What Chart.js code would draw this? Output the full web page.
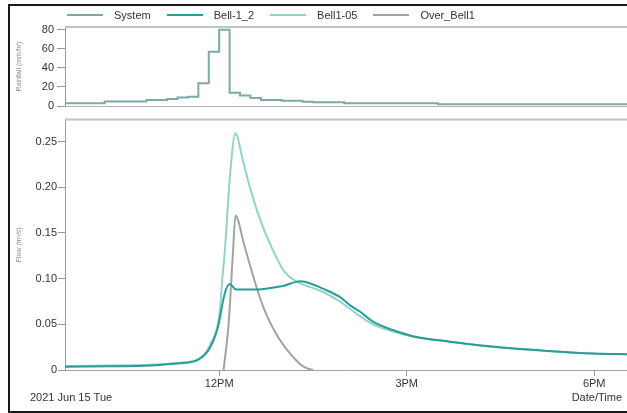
<!DOCTYPE html>
<html lang="en">
<head>
<meta charset="UTF-8">
<title>Rainfall and Flow</title>
<script src="https://cdn.jsdelivr.net/npm/chart.js"></script>
<style>
    html, body {
        margin: 0;
        padding: 0;
        background: #ffffff;
        overflow: hidden;
    }
    body {
        width: 627px;
        height: 413px;
        position: relative;
        font-family: "Liberation Sans", Arial, sans-serif;
    }
    #frame {
        position: absolute;
        left: 8px;
        top: 4px;
        width: 700px;
        height: 405px;
        border: 2px solid #1a1a1a;
        border-right: none;
        pointer-events: none;
        z-index: 5;
    }
    #rain { position: absolute; left: 0; top: 0; }
    #flow { position: absolute; left: 0; top: 112px; }
    .legend {
        position: absolute;
        top: 9px;
        left: 67px;
        display: flex;
        align-items: center;
        font-size: 11px;
        color: #333;
        z-index: 6;
        white-space: nowrap;
    }
    .legend .item { display: flex; align-items: center; margin-right: 16px; }
    .legend .swatch { width: 36px; height: 2px; margin-right: 11px; }
</style>
</head>
<body>
    <div id="frame"></div>
    <div class="legend" id="legend"></div>
    <canvas id="rain" width="627" height="120"></canvas>
    <canvas id="flow" width="627" height="301"></canvas>

<script>
    // x values are hours of the day (2021 Jun 15)
    const xMin = 9.533;
    const xMax = 18.525;
    const timeTicks = [12, 15, 18];
    const timeLabels = ['12PM', '3PM', '6PM'];

    const rainTicks = [0, 20, 40, 60, 80];
    const flowTicks = [0, 0.05, 0.10, 0.15, 0.20, 0.25];

    // rainfall (mm/hr), value holds until the next time
    const rainTime  = [9.0, 10.1667, 10.8333, 11.1667, 11.3333, 11.5, 11.6667, 11.8333, 12.0, 12.1667, 12.3333, 12.5, 12.6667, 13.0, 13.3333, 13.5, 14.0, 15.5, 19.0];
    const rainValue = [2.8, 4.6, 6.3, 7.4, 8.8, 9.8, 24, 57, 80, 14, 11, 8.4, 6.3, 5.6, 4.5, 3.9, 2.8, 1.8, 1.8];

    // flow (m3/s)
    const bell12Time = [9.0, 9.53, 10.25, 10.9, 11.37, 11.66, 11.85, 11.98, 12.09, 12.17, 12.27, 12.54, 13.02, 13.3, 13.45, 13.66, 13.93, 14.09, 14.25, 14.46, 14.78, 15.1, 15.69, 16.49, 17.29, 17.98, 18.6];
    const bell12Flow = [0.0036, 0.0036, 0.004, 0.005, 0.0073, 0.011, 0.024, 0.047, 0.084, 0.094, 0.088, 0.088, 0.092, 0.097, 0.095, 0.089, 0.080, 0.071, 0.064, 0.053, 0.0437, 0.037, 0.031, 0.0248, 0.0207, 0.018, 0.0172];

    const bell105Time = [9.0, 9.53, 10.25, 10.9, 11.37, 11.66, 11.85, 12.01, 12.05, 12.09, 12.17, 12.26, 12.38, 12.52, 12.68, 12.86, 13.05, 13.29, 13.61, 13.93, 14.09, 14.25, 14.46, 14.78, 15.1, 15.69, 16.49, 17.29, 17.98, 18.6];
    const bell105Flow = [0.0045, 0.0045, 0.005, 0.0058, 0.008, 0.012, 0.027, 0.065, 0.1, 0.13, 0.21, 0.259, 0.229, 0.193, 0.160, 0.131, 0.107, 0.095, 0.087, 0.075, 0.067, 0.059, 0.050, 0.042, 0.0365, 0.031, 0.0245, 0.0205, 0.018, 0.017];

    const overTime = [12.07, 12.15, 12.22, 12.26, 12.4, 12.5, 12.6, 12.7, 12.8, 12.9, 13.0, 13.1, 13.2, 13.3, 13.4, 13.5];
    const overFlow = [0, 0.05, 0.128, 0.169, 0.137, 0.113, 0.09, 0.07, 0.054, 0.041, 0.030, 0.021, 0.013, 0.006, 0.002, 0];

    const seriesNames  = ['System', 'Bell-1_2', 'Bell1-05', 'Over_Bell1'];
    const seriesColors = ['#7fa9a5', '#2a9d96', '#93d3cc', '#a3a3a3'];

    function points(xs, ys) {
        return xs.map((x, i) => ({ x: x, y: ys[i] }));
    }

    // legend
    const legend = document.getElementById('legend');
    seriesNames.forEach((name, i) => {
        const item = document.createElement('div');
        item.className = 'item';
        item.innerHTML = `<span class="swatch" style="background:${seriesColors[i]}"></span><span>${name}</span>`;
        legend.appendChild(item);
    });

    const tickFont = { family: '"Liberation Sans", Arial, sans-serif', size: 11 };
    const titleFont = { family: '"Liberation Sans", Arial, sans-serif', size: 7 };

    // gray line along the top of the plot area
    const topEdge = {
        id: 'topEdge',
        afterDraw(chart) {
            const { ctx, chartArea: a } = chart;
            ctx.save();
            ctx.strokeStyle = '#c2c2c2';
            ctx.lineWidth = 2;
            ctx.beginPath();
            ctx.moveTo(a.left, a.top);
            ctx.lineTo(a.right, a.top);
            ctx.stroke();
            ctx.restore();
        }
    };

    // date and axis caption under the flow chart
    const captions = {
        id: 'captions',
        afterDraw(chart) {
            const ctx = chart.ctx;
            ctx.save();
            ctx.font = '11px "Liberation Sans", Arial, sans-serif';
            ctx.fillStyle = '#333';
            ctx.textBaseline = 'middle';
            ctx.textAlign = 'left';
            ctx.fillText('2021 Jun 15 Tue', 30, 286);
            ctx.textAlign = 'right';
            ctx.fillText('Date/Time', 622, 286);
            ctx.restore();
        }
    };

    new Chart(document.getElementById('rain'), {
        type: 'line',
        data: {
            datasets: [{
                label: seriesNames[0],
                data: points(rainTime, rainValue),
                borderColor: seriesColors[0],
                borderWidth: 2,
                stepped: true,
                pointRadius: 0,
                fill: false
            }]
        },
        options: {
            responsive: false,
            animation: false,
            layout: { padding: { top: 27, right: 0, bottom: 0, left: 0 } },
            plugins: { legend: { display: false }, tooltip: { enabled: false } },
            scales: {
                x: {
                    type: 'linear', min: xMin, max: xMax,
                    ticks: { display: false },
                    grid: { display: false },
                    border: { color: '#b0b0b0', width: 1 },
                    afterFit: s => { s.height = 14; }
                },
                y: {
                    min: 0, max: 83,
                    afterBuildTicks: s => { s.ticks = rainTicks.map(v => ({ value: v })); },
                    ticks: { font: tickFont, color: '#333', padding: 3 },
                    grid: { drawOnChartArea: false, tickLength: 8, color: '#999' },
                    border: { color: '#999', width: 1 },
                    title: { display: true, text: 'Rainfall (mm/hr)', font: titleFont, color: '#888', padding: { top: 15, bottom: 0 } },
                    afterFit: s => { s.width = 65; }
                }
            }
        },
        plugins: [topEdge]
    });

    const flowSets = [
        { name: seriesNames[1], color: seriesColors[1], xs: bell12Time, ys: bell12Flow },
        { name: seriesNames[2], color: seriesColors[2], xs: bell105Time, ys: bell105Flow },
        { name: seriesNames[3], color: seriesColors[3], xs: overTime, ys: overFlow }
    ];

    new Chart(document.getElementById('flow'), {
        type: 'line',
        data: {
            datasets: flowSets.map(s => ({
                label: s.name,
                data: points(s.xs, s.ys),
                borderColor: s.color,
                borderWidth: 2,
                pointRadius: 0,
                cubicInterpolationMode: 'monotone',
                fill: false
            }))
        },
        options: {
            responsive: false,
            animation: false,
            layout: { padding: { top: 7, right: 0, bottom: 0, left: 0 } },
            plugins: { legend: { display: false }, tooltip: { enabled: false } },
            scales: {
                x: {
                    type: 'linear', min: xMin, max: xMax,
                    afterBuildTicks: s => { s.ticks = timeTicks.map(v => ({ value: v })); },
                    ticks: {
                        font: tickFont, color: '#333', padding: 1,
                        maxRotation: 0, autoSkip: false,
                        callback: (v, i) => timeLabels[i]
                    },
                    grid: { drawOnChartArea: false, tickLength: 6, color: '#999' },
                    border: { color: '#a0a0a0', width: 1 },
                    afterFit: s => { s.height = 43; }
                },
                y: {
                    min: 0, max: 0.274,
                    afterBuildTicks: s => { s.ticks = flowTicks.map(v => ({ value: v })); },
                    ticks: {
                        font: tickFont, color: '#333', padding: 1,
                        callback: v => v === 0 ? '0' : v.toFixed(2)
                    },
                    grid: { drawOnChartArea: false, tickLength: 7, color: '#999' },
                    border: { color: '#999', width: 1 },
                    title: { display: true, text: 'Flow (m³/s)', font: titleFont, color: '#888', padding: { top: 15, bottom: 0 } },
                    afterFit: s => { s.width = 65; }
                }
            }
        },
        plugins: [topEdge, captions]
    });
</script>
</body>
</html>
